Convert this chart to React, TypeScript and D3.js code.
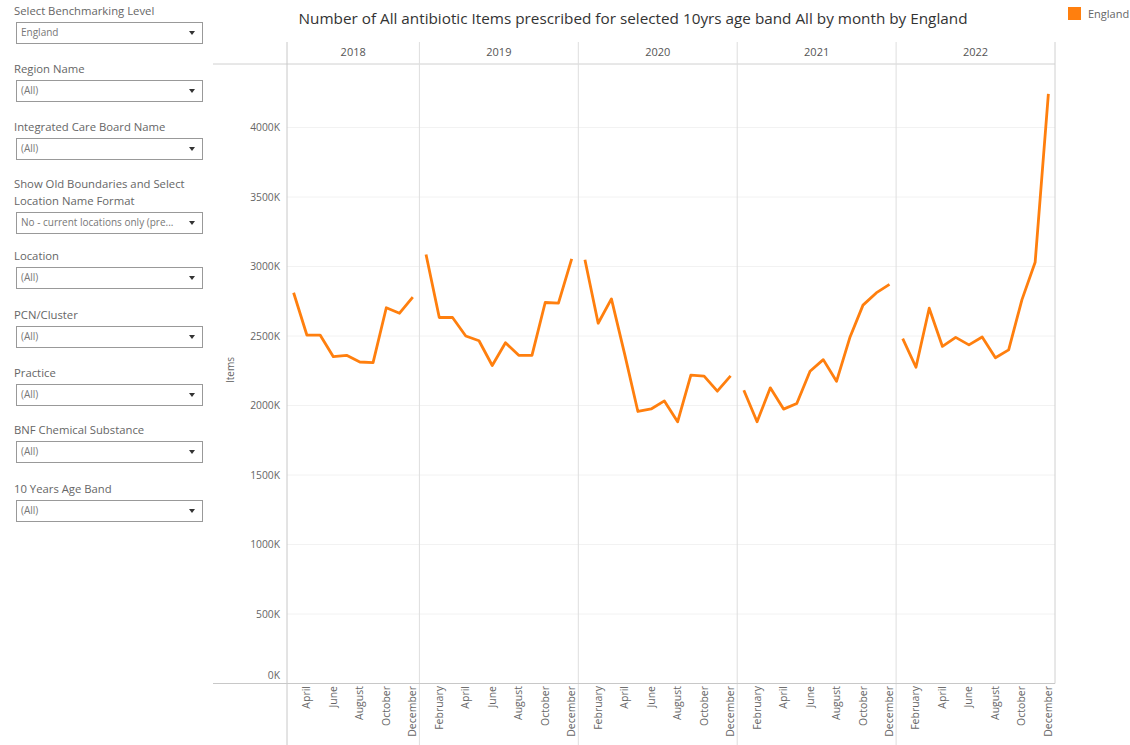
import * as d3 from "d3";

const years = ["2018", "2019", "2020", "2021", "2022"];
const monthNames = [
  "January", "February", "March", "April", "May", "June",
  "July", "August", "September", "October", "November", "December",
];
// 2018 starts in March
const months2018 = monthNames.slice(2);

// Items prescribed, thousands
const items2018 = [2811, 2507, 2507, 2351, 2361, 2313, 2308, 2703, 2664, 2780];
const items2019 = [3086, 2633, 2633, 2500, 2466, 2288, 2452, 2361, 2361, 2741, 2736, 3055];
const items2020 = [3048, 2592, 2767, 2370, 1957, 1975, 2033, 1883, 2218, 2211, 2103, 2213];
const items2021 = [2110, 1883, 2127, 1974, 2015, 2246, 2330, 2174, 2487, 2722, 2810, 2871];
const items2022 = [2481, 2275, 2700, 2425, 2490, 2436, 2493, 2344, 2400, 2760, 3030, 4242];

const yTicks = [0, 500, 1000, 1500, 2000, 2500, 3000, 3500, 4000];

const filterLabels = [
  ["Select Benchmarking Level"],
  ["Region Name"],
  ["Integrated Care Board Name"],
  ["Show Old Boundaries and Select", "Location Name Format"],
  ["Location"],
  ["PCN/Cluster"],
  ["Practice"],
  ["BNF Chemical Substance"],
  ["10 Years Age Band"],
];
const filterValues = [
  "England", "(All)", "(All)", "No - current locations only (pre...",
  "(All)", "(All)", "(All)", "(All)", "(All)",
];
const filterBoxTops = [22, 80, 138, 212, 267, 326, 384, 441, 500];

const title =
  "Number of All antibiotic Items prescribed for selected 10yrs age band All by month by England";

const W = 1130;
const H = 745;
const left = 287;
const right = 1055;
const headerTop = 42;
const headerBottom = 64;
const baseline = 683.5;
const orange = "#ff7f0e";
const font = "'Open Sans', 'DejaVu Sans', sans-serif";

export default function App() {
  const series = [
    { year: years[0], months: months2018, values: items2018 },
    { year: years[1], months: monthNames, values: items2019 },
    { year: years[2], months: monthNames, values: items2020 },
    { year: years[3], months: monthNames, values: items2021 },
    { year: years[4], months: monthNames, values: items2022 },
  ];
  const keys = series.flatMap((s) => s.months.map((m) => `${s.year}-${m}`));

  const x = d3.scaleBand<string>().domain(keys).range([left, right]).padding(0);
  const y = d3.scaleLinear().domain([0, 4000]).range([baseline, 127.5]);

  const line = d3
    .line<{ key: string; v: number }>()
    .x((d) => (x(d.key) ?? 0) + x.bandwidth() / 2)
    .y((d) => y(d.v));

  const panes = series.map((s) => {
    const x0 = x(`${s.year}-${s.months[0]}`) ?? 0;
    const x1 = (x(`${s.year}-${s.months[s.months.length - 1]}`) ?? 0) + x.bandwidth();
    return { year: s.year, x0, x1 };
  });

  return (
    <div style={{ position: "absolute", left: 0, top: 0 }}>
      <svg width={W} height={H} style={{ display: "block", fontFamily: font }}>
        <rect width={W} height={H} fill="#fff" />

        {/* filter panel */}
        {filterLabels.map((lines, i) => {
          const top = filterBoxTops[i];
          return (
            <g key={i}>
              {lines.map((t, j) => (
                <text
                  key={j}
                  x={14}
                  y={top - 7 - (lines.length - 1 - j) * 17}
                  fontSize={11.3}
                  fill="#666"
                >
                  {t}
                </text>
              ))}
              <rect x={16.5} y={top + 0.5} width={186} height={21} fill="#fff" stroke="#999" />
              <text x={21} y={top + 14} fontSize={10} fill="#777">
                {filterValues[i]}
              </text>
              <path d={`M189,${top + 9}h6l-3,4z`} fill="#333" />
            </g>
          );
        })}

        {/* title */}
        <text
          x={633}
          y={24}
          textAnchor="middle"
          fontSize={15}
          fill="#333"
          textLength={669}
          lengthAdjust="spacingAndGlyphs"
        >
          {title}
        </text>

        {/* legend */}
        <rect x={1068} y={7} width={13} height={13} fill={orange} />
        <text x={1088} y={18} fontSize={11} fill="#666">
          England
        </text>

        {/* gridlines */}
        {yTicks.slice(1).map((t) => (
          <line key={t} x1={left} x2={right} y1={y(t)} y2={y(t)} stroke="#f2f2f2" />
        ))}

        {/* header */}
        <line x1={213} x2={right} y1={headerBottom} y2={headerBottom} stroke="#d0d0d0" />
        {panes.map((p) => (
          <text
            key={p.year}
            x={(p.x0 + p.x1) / 2}
            y={56}
            textAnchor="middle"
            fontSize={11}
            fill="#555"
          >
            {p.year}
          </text>
        ))}

        {/* pane separators */}
        {panes.slice(1).map((p) => (
          <line key={p.year} x1={p.x0} x2={p.x0} y1={headerTop} y2={H} stroke="#dedede" />
        ))}
        <line x1={right} x2={right} y1={headerTop} y2={baseline} stroke="#d0d0d0" />
        <line x1={left} x2={left} y1={headerTop} y2={H} stroke="#c8c8c8" />
        <line x1={213} x2={right} y1={baseline} y2={baseline} stroke="#c8c8c8" />

        {/* y axis */}
        {yTicks.map((t) => (
          <text
            key={t}
            x={280}
            y={t === 0 ? y(t) - 5 : y(t) + 3.5}
            textAnchor="end"
            fontSize={10.3}
            fill="#666"
          >
            {`${t}K`}
          </text>
        ))}
        <text
          transform={`translate(234,${370}) rotate(-90)`}
          textAnchor="middle"
          fontSize={10}
          fill="#666"
        >
          Items
        </text>

        {/* x labels */}
        {series.map((s) =>
          s.months.map((m) => {
            const idx = monthNames.indexOf(m);
            if (idx % 2 === 0) return null;
            const cx = (x(`${s.year}-${m}`) ?? 0) + x.bandwidth() / 2;
            return (
              <text
                key={`${s.year}-${m}`}
                transform={`translate(${cx + 3.5},${686}) rotate(-90)`}
                textAnchor="end"
                fontSize={10.5}
                fill="#666"
              >
                {m}
              </text>
            );
          })
        )}

        {/* lines */}
        {series.map((s) => (
          <path
            key={s.year}
            d={line(s.values.map((v, i) => ({ key: `${s.year}-${s.months[i]}`, v }))) ?? ""}
            fill="none"
            stroke={orange}
            strokeWidth={2.8}
            strokeLinejoin="round"
          />
        ))}
      </svg>
    </div>
  );
}
